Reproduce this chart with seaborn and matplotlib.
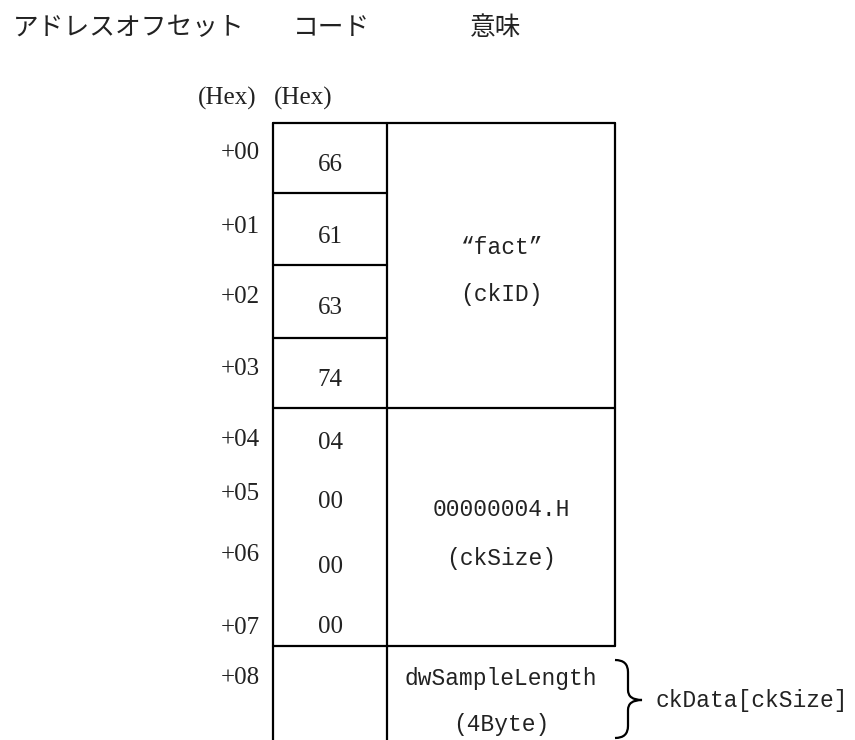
import matplotlib.pyplot as plt
import seaborn as sns
import numpy as np
from matplotlib.path import Path
from matplotlib.patches import PathPatch

sns.set_theme(style='white')
plt.rcParams['font.family'] = ['Noto Sans CJK JP', 'DejaVu Sans']

# data
headers = ['アドレスオフセット', 'コード', '意味']
offsets = ['+00', '+01', '+02', '+03', '+04', '+05', '+06', '+07', '+08']
codes = ['66', '61', '63', '74', '04', '00', '00', '00', '']
meanings = [('“fact”', '(ckID)'), ('00000004.H', '(ckSize)'), ('dwSampleLength', '(4Byte)')]
bracket_label = 'ckData[ckSize]'

# layout (pixel space)
x_left, x_mid, x_right = 273, 387, 615
y_top = 123
row_lines = [193, 265, 338, 408, 646]
offset_y = [153, 227, 297, 369, 440, 494, 555, 628, 678]
code_y = [165, 237, 308, 380, 443, 502, 567, 627, 678]
meaning_y = [(248, 295), (510, 558), (678, 725)]

fig = plt.figure(figsize=(8.55, 7.4), dpi=100)
ax = fig.add_axes([0, 0, 1, 1])
ax.set_xlim(0, 855)
ax.set_ylim(740, 0)
ax.axis('off')

lw = 1.6
k = 'black'
txt = '#222222'
# frame
ax.plot([x_left, x_right], [y_top, y_top], color=k, lw=lw)
ax.plot([x_left, x_left], [y_top, 740], color=k, lw=lw)
ax.plot([x_mid, x_mid], [y_top, 740], color=k, lw=lw)
ax.plot([x_right, x_right], [y_top, row_lines[-1]], color=k, lw=lw)
for y in row_lines[:3]:
    ax.plot([x_left, x_mid], [y, y], color=k, lw=lw)
for y in row_lines[3:]:
    ax.plot([x_left, x_right], [y, y], color=k, lw=lw)

# headers
jp = ['Noto Sans CJK JP', 'DejaVu Sans']
ax.text(13, 28, headers[0], fontsize=18.5, family=jp, va='center', ha='left', color=txt)
ax.text(293, 28, headers[1], fontsize=18.5, family=jp, va='center', ha='left', color=txt)
ax.text(470, 28, headers[2], fontsize=18.5, family=jp, va='center', ha='left', color=txt)
ax.text(227, 98, '(Hex)', fontsize=18, family='Liberation Serif', va='center', ha='center', color=txt)
ax.text(303, 98, '(Hex)', fontsize=18, family='Liberation Serif', va='center', ha='center', color=txt)

# offsets and codes
for lab, y in zip(offsets, offset_y):
    ax.text(260, y, lab, fontsize=18, family='Liberation Serif', va='center', ha='right', color=txt)
for lab, y in zip(codes, code_y):
    ax.text((x_left + x_mid) / 2, y, lab, fontsize=18, family='Liberation Serif',
            va='center', ha='center', color=txt)

# meanings
xm = (x_mid + x_right) / 2
mono = ['Liberation Mono', 'DejaVu Sans']
for (l1, l2), (y1, y2) in zip(meanings, meaning_y):
    ax.text(xm, y1, l1, fontsize=16.5, family=mono, va='center', ha='center', color=txt)
    ax.text(xm, y2, l2, fontsize=16.5, family=mono, va='center', ha='center', color=txt)

# curly brace
verts = [(615, 660), (628, 660), (628, 672),
         (628, 690),
         (628, 700), (642, 700),
         (628, 700), (628, 710),
         (628, 726),
         (628, 738), (615, 738)]
codes_p = [Path.MOVETO, Path.CURVE3, Path.CURVE3,
           Path.LINETO,
           Path.CURVE3, Path.CURVE3,
           Path.CURVE3, Path.CURVE3,
           Path.LINETO,
           Path.CURVE3, Path.CURVE3]
ax.add_patch(PathPatch(Path(verts, codes_p), fill=False, lw=lw, color=k))
ax.text(655, 700, bracket_label, fontsize=16.5, family=mono, va='center', ha='left', color=txt)

fig.savefig('out.png', dpi=100)
